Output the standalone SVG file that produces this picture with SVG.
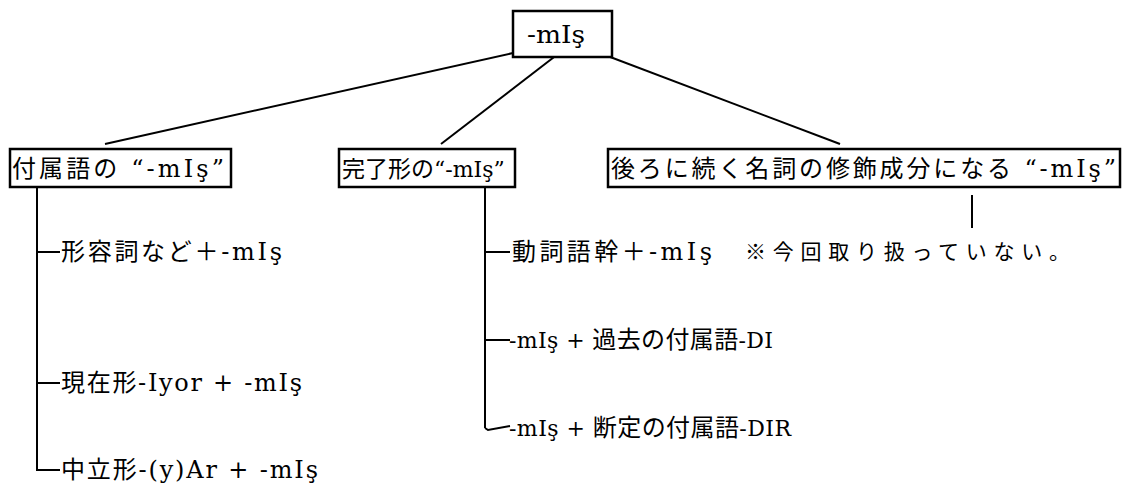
<svg xmlns="http://www.w3.org/2000/svg" width="1132" height="489" viewBox="0 0 1132 489">
<style>
.bg{fill:#fff}
.box{fill:#fff;stroke:#000;stroke-width:2.5}
.ln{fill:none;stroke:#000;stroke-width:2}
text{font-family:"DejaVu Serif","Noto Sans CJK JP",serif;font-size:24px;fill:#000}
.j{font-family:"Noto Sans CJK JP",sans-serif;font-size:24px}
.s22{font-size:22px}
.j23{font-family:"Noto Sans CJK JP",sans-serif;font-size:23px}
.sm{font-family:"Noto Sans CJK JP",sans-serif;font-size:21px}
</style>
<rect class="bg" x="0" y="0" width="1132" height="489"/>
<g id="connectors">
<line class="ln" x1="513" y1="53" x2="105" y2="144"/>
<line class="ln" x1="558" y1="54" x2="441" y2="144"/>
<line class="ln" x1="597" y1="52" x2="840" y2="144"/>
<line class="ln" x1="37" y1="187" x2="37" y2="470"/>
<line class="ln" x1="36" y1="252" x2="60" y2="252"/>
<line class="ln" x1="36" y1="383" x2="60" y2="383"/>
<line class="ln" x1="36" y1="470" x2="60" y2="470"/>
<line class="ln" x1="485" y1="187" x2="485" y2="428"/>
<line class="ln" x1="484" y1="252" x2="510" y2="252"/>
<line class="ln" x1="484" y1="340" x2="510" y2="340"/>
<polyline class="ln" points="485,428 488,430 510,426"/>
<line class="ln" x1="972" y1="195" x2="972" y2="228"/>
</g>
<g id="root"><rect class="box" x="513" y="11" width="99" height="46"/><text x="527" y="43" textLength="58" lengthAdjust="spacingAndGlyphs">-mIş</text></g>
<g id="n1"><rect class="box" x="10" y="149" width="221" height="38"/><text x="12" y="177" textLength="212" lengthAdjust="spacing"><tspan class="j">付属語の</tspan> “-mIş”</text></g>
<g id="n2"><rect class="box" x="339" y="149" width="176" height="38"/><text class="s22" x="342" y="177"><tspan class="j23">完了形の</tspan>“-mIş”</text></g>
<g id="n3"><rect class="box" x="608" y="149" width="512" height="38"/><text x="611" y="177" textLength="505" lengthAdjust="spacing"><tspan class="j">後ろに続く名詞の修飾成分になる</tspan> “-mIş”</text></g>
<g id="l1"><text x="61" y="260" textLength="221" lengthAdjust="spacing"><tspan class="j">形容詞など＋</tspan>-mIş</text></g>
<g id="l2"><text x="61" y="391" textLength="241" lengthAdjust="spacing"><tspan class="j">現在形</tspan>-Iyor + -mIş</text></g>
<g id="l3"><text x="61" y="478" textLength="257" lengthAdjust="spacing"><tspan class="j">中立形</tspan>-(y)Ar + -mIş</text></g>
<g id="m1"><text x="512" y="260" textLength="200" lengthAdjust="spacing"><tspan class="j">動詞語幹＋</tspan>-mIş</text></g>
<g id="m2"><text class="s22" x="509" y="348" textLength="264" lengthAdjust="spacing">-mIş + <tspan class="j">過去の付属語</tspan>-DI</text></g>
<g id="m3"><text class="s22" x="509" y="436" textLength="282" lengthAdjust="spacing">-mIş + <tspan class="j">断定の付属語</tspan>-DIR</text></g>
<g id="note"><text class="sm" x="745" y="259" textLength="325" lengthAdjust="spacing">※今回取り扱っていない。</text></g>
</svg>
